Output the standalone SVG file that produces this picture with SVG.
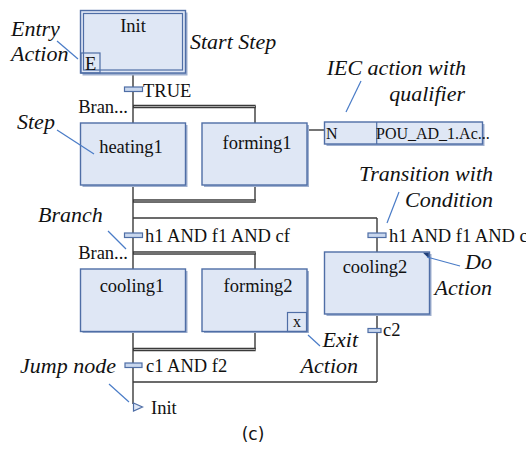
<svg xmlns="http://www.w3.org/2000/svg" width="526" height="449" viewBox="0 0 526 449">
<style>
.bgfill{fill:#ffffff}
.stepbox{fill:#dfe7f5;stroke:#4f6ea6;stroke-width:1.4}
.shadow{fill:#9fb0cf}
.wire{stroke:#3a3a3a;stroke-width:1.4;fill:none}
.dblwire{stroke:#3a3a3a;stroke-width:3.4;fill:none}
.dblwirein{stroke:#a8a8a8;stroke-width:1;fill:none}
.trbar{fill:#c9d7ee;stroke:#4f6ea6;stroke-width:1.2}
.leader{stroke:#4a7cc7;stroke-width:1.2;fill:none}
.lbltxt{font-family:"Liberation Serif","Times New Roman",serif;font-size:18.5px;fill:#111}
.smalltxt{font-family:"Liberation Serif","Times New Roman",serif;font-size:16px;fill:#111}
.annot{font-family:"Liberation Serif","Times New Roman",serif;font-size:22px;font-style:italic;fill:#111}
.captxt{font-family:"DejaVu Sans","Liberation Sans",sans-serif;font-size:17px;fill:#111}
</style>
<rect class="bgfill" width="526" height="449"/>

<g id="connectors">
  <line class="wire" x1="133" y1="73" x2="133" y2="123"/>
  <line class="wire" x1="255" y1="106" x2="255" y2="123"/>
  <line class="wire" x1="133" y1="185" x2="133" y2="269"/>
  <line class="wire" x1="255" y1="185" x2="255" y2="201"/>
  <line class="wire" x1="133" y1="218" x2="377" y2="218"/>
  <line class="wire" x1="377" y1="218" x2="377" y2="252"/>
  <line class="wire" x1="255" y1="253" x2="255" y2="269"/>
  <line class="wire" x1="133" y1="332" x2="133" y2="404"/>
  <line class="wire" x1="255" y1="332" x2="255" y2="349"/>
  <line class="wire" x1="377" y1="314" x2="377" y2="382"/>
  <line class="wire" x1="133" y1="382" x2="377" y2="382"/>
  <line class="wire" x1="307" y1="130" x2="324" y2="130"/>
  <line class="dblwire" x1="133" y1="106.5" x2="255.7" y2="106.5"/>
  <line class="dblwirein" x1="134" y1="106.5" x2="255" y2="106.5"/>
  <line class="dblwire" x1="133" y1="201" x2="255.7" y2="201"/>
  <line class="dblwirein" x1="134" y1="201" x2="255" y2="201"/>
  <line class="dblwire" x1="133" y1="253" x2="255.7" y2="253"/>
  <line class="dblwirein" x1="134" y1="253" x2="255" y2="253"/>
  <line class="dblwire" x1="133" y1="349.5" x2="255.7" y2="349.5"/>
  <line class="dblwirein" x1="134" y1="349.5" x2="255" y2="349.5"/>
</g>

<g id="t_true">
  <rect class="trbar" x="124.5" y="87" width="18" height="4.5"/>
  <text class="lbltxt" x="143" y="97">TRUE</text>
</g>
<g id="t_h1_left">
  <rect class="trbar" x="124.5" y="233" width="18" height="4.5"/>
  <text class="lbltxt" x="145" y="242">h1 AND f1 AND cf</text>
</g>
<g id="t_h1_right">
  <rect class="trbar" x="368" y="233" width="18" height="4.5"/>
  <text class="lbltxt" x="389" y="242">h1 AND f1 AND cf</text>
</g>
<g id="t_c2">
  <rect class="trbar" x="368" y="328.5" width="13" height="4"/>
  <text class="lbltxt" x="383" y="336">c2</text>
</g>
<g id="t_c1f2">
  <rect class="trbar" x="125" y="363" width="17" height="4.5"/>
  <text class="lbltxt" x="146" y="372">c1 AND f2</text>
</g>

<g id="branch1"><text class="lbltxt" x="128" y="113" text-anchor="end">Bran...</text></g>
<g id="branch2"><text class="lbltxt" x="128" y="259" text-anchor="end">Bran...</text></g>

<g id="init">
  <rect class="shadow" x="82.5" y="12.5" width="105" height="63"/>
  <rect class="stepbox" x="80.5" y="10.5" width="105" height="62.5"/>
  <rect x="83.5" y="13.5" width="99" height="56.5" fill="none" stroke="#4f6ea6" stroke-width="1.2"/>
  <rect x="81" y="53" width="19" height="20" fill="none" stroke="#4f6ea6" stroke-width="1.2"/>
  <text class="lbltxt" x="85" y="70">E</text>
  <text class="lbltxt" x="133" y="32" text-anchor="middle">Init</text>
</g>

<g id="heating1">
  <rect class="shadow" x="82.5" y="125" width="105" height="62"/>
  <rect class="stepbox" x="80.5" y="123" width="105" height="62"/>
  <text class="lbltxt" x="131" y="153" text-anchor="middle">heating1</text>
</g>
<g id="forming1">
  <rect class="shadow" x="204" y="125" width="105" height="62"/>
  <rect class="stepbox" x="202" y="123" width="105" height="62"/>
  <text class="lbltxt" x="257" y="149" text-anchor="middle">forming1</text>
</g>
<g id="action">
  <rect class="shadow" x="326.5" y="124" width="158" height="22"/>
  <rect class="stepbox" x="324.5" y="122" width="158" height="22"/>
  <line x1="376.7" y1="122" x2="376.7" y2="144" stroke="#4f6ea6" stroke-width="1.2"/>
  <text class="smalltxt" x="326" y="139">N</text>
  <text class="smalltxt" x="376" y="139">POU_AD_1.Ac...</text>
</g>
<g id="cooling1">
  <rect class="shadow" x="82.5" y="271" width="105" height="62"/>
  <rect class="stepbox" x="80.5" y="269" width="105" height="62.5"/>
  <text class="lbltxt" x="132" y="292" text-anchor="middle">cooling1</text>
</g>
<g id="forming2">
  <rect class="shadow" x="204" y="271" width="105" height="62"/>
  <rect class="stepbox" x="202" y="269" width="105" height="62.5"/>
  <rect x="287.5" y="312.5" width="19" height="19" fill="none" stroke="#4f6ea6" stroke-width="1.2"/>
  <text class="smalltxt" x="297" y="327" text-anchor="middle">x</text>
  <text class="lbltxt" x="258" y="292" text-anchor="middle">forming2</text>
</g>
<g id="cooling2">
  <rect class="shadow" x="326.5" y="254" width="105" height="62"/>
  <rect class="stepbox" x="324.5" y="252" width="105" height="62"/>
  <polygon points="423,252.7 428.8,252.7 428.8,258.5" fill="#1f3f7a"/>
  <text class="lbltxt" x="375" y="273" text-anchor="middle">cooling2</text>
</g>
<g id="jump">
  <polygon points="133.5,403 142.5,407 133.5,411" fill="#dfe7f5" stroke="#4f6ea6" stroke-width="1.2"/>
  <text class="lbltxt" x="151" y="414">Init</text>
</g>

<g id="annotations">
  <text class="annot" x="11" y="36">Entry</text>
  <text class="annot" x="11" y="61">Action</text>
  <line class="leader" x1="57" y1="41" x2="78" y2="59"/>
  <text class="annot" x="190" y="49">Start Step</text>
  <text class="annot" x="466" y="75" text-anchor="end">IEC action with</text>
  <text class="annot" x="465" y="101" text-anchor="end">qualifier</text>
  <line class="leader" x1="361" y1="81" x2="346" y2="112"/>
  <text class="annot" x="17" y="129">Step</text>
  <line class="leader" x1="57" y1="130" x2="94" y2="154"/>
  <text class="annot" x="493" y="181" text-anchor="end">Transition with</text>
  <text class="annot" x="493" y="207" text-anchor="end">Condition</text>
  <line class="leader" x1="399" y1="192" x2="387" y2="223"/>
  <text class="annot" x="38" y="222">Branch</text>
  <line class="leader" x1="108" y1="231" x2="126" y2="249"/>
  <text class="annot" x="492" y="269" text-anchor="end">Do</text>
  <text class="annot" x="492" y="295" text-anchor="end">Action</text>
  <line class="leader" x1="427" y1="257" x2="460" y2="266"/>
  <text class="annot" x="358" y="347" text-anchor="end">Exit</text>
  <text class="annot" x="358" y="373" text-anchor="end">Action</text>
  <line class="leader" x1="308" y1="335" x2="320" y2="346"/>
  <text class="annot" x="20" y="373">Jump node</text>
  <line class="leader" x1="109" y1="384" x2="129" y2="402"/>
  <text class="captxt" x="253" y="440" text-anchor="middle">(c)</text>
</g>
</svg>
